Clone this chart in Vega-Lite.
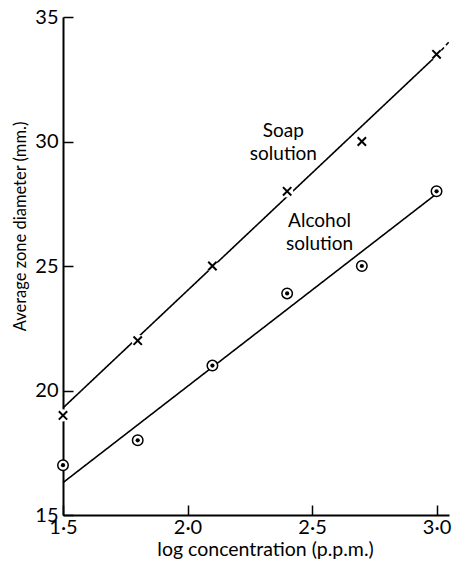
{
  "$schema": "https://vega.github.io/schema/vega-lite/v6.json",
  "autosize": {"type": "none"},
  "padding": {"left": 63, "top": 17, "right": 3, "bottom": 48},
  "width": 386,
  "height": 498,
  "background": "white",
  "config": {
    "view": {"stroke": null},
    "font": "Lato",
    "axis": {
      "grid": false,
      "domainColor": "black",
      "domainWidth": 2,
      "tickColor": "black",
      "tickWidth": 1.5,
      "tickSize": -10,
      "labelColor": "black",
      "titleColor": "black",
      "labelFont": "Lato",
      "titleFont": "Lato",
      "titleFontWeight": "normal"
    }
  },
  "datasets": {
    "points": [
      {"series": "Soap solution", "x": 1.5, "y": 19.0},
      {"series": "Soap solution", "x": 1.8, "y": 22.0},
      {"series": "Soap solution", "x": 2.1, "y": 25.0},
      {"series": "Soap solution", "x": 2.4, "y": 28.0},
      {"series": "Soap solution", "x": 2.7, "y": 30.0},
      {"series": "Soap solution", "x": 3.0, "y": 33.5},
      {"series": "Alcohol solution", "x": 1.5, "y": 17.0},
      {"series": "Alcohol solution", "x": 1.8, "y": 18.0},
      {"series": "Alcohol solution", "x": 2.1, "y": 21.0},
      {"series": "Alcohol solution", "x": 2.4, "y": 23.9},
      {"series": "Alcohol solution", "x": 2.7, "y": 25.0},
      {"series": "Alcohol solution", "x": 3.0, "y": 28.0}
    ],
    "fits": [
      {"series": "Soap solution", "part": "fit", "x": 1.5, "y": 19.3},
      {"series": "Soap solution", "part": "fit", "x": 3.0, "y": 33.45},
      {"series": "Soap solution", "part": "extrapolated", "x": 3.0, "y": 33.45},
      {"series": "Soap solution", "part": "extrapolated", "x": 3.05, "y": 34.0},
      {"series": "Alcohol solution", "part": "fit", "x": 1.5, "y": 16.3},
      {"series": "Alcohol solution", "part": "fit", "x": 3.0, "y": 27.9}
    ],
    "labels": [
      {"label": "Soap\nsolution", "x": 2.385, "y": 30.44},
      {"label": "Alcohol\nsolution", "x": 2.53, "y": 26.8}
    ]
  },
  "layer": [
    {
      "data": {"name": "fits"},
      "mark": {"type": "line", "color": "black", "strokeWidth": 1.6},
      "encoding": {
        "x": {
          "field": "x", "type": "quantitative",
          "scale": {"domain": [1.5, 3.05], "nice": false, "zero": false},
          "axis": {
            "values": [1.5, 2.0, 2.5, 3.0],
            "labelExpr": "replace(format(datum.value, '.1f'), '.', '·')",
            "labelFontSize": 20,
            "labelPadding": 12,
            "labelFlush": false,
            "title": "log concentration (p.p.m.)",
            "titleFontSize": 19.5,
            "titleBaseline": "middle",
            "titleAnchor": "middle",
            "titleX": 202,
            "titleY": 34
          }
        },
        "y": {
          "field": "y", "type": "quantitative",
          "scale": {"domain": [15, 35], "nice": false, "zero": false},
          "axis": {
            "values": [15, 20, 25, 30, 35],
            "labelFontSize": 20,
            "labelPadding": 15,
            "labelFlush": false,
            "title": "Average zone diameter (mm.)",
            "titleFontSize": 16.5,
            "titleBaseline": "middle",
            "titleAnchor": "middle",
            "titleAngle": -90,
            "titleX": -43,
            "titleY": 209
          }
        },
        "detail": {"field": "series"},
        "strokeDash": {
          "field": "part", "type": "nominal",
          "scale": {"domain": ["fit", "extrapolated"], "range": [[1, 0], [4, 3]]},
          "legend": null
        }
      }
    },
    {
      "data": {"name": "points"},
      "transform": [{"filter": "datum.series === 'Soap solution'"}],
      "mark": {"type": "point", "shape": "circle", "filled": true, "color": "white", "opacity": 1, "size": 150},
      "encoding": {
        "x": {"field": "x", "type": "quantitative"},
        "y": {"field": "y", "type": "quantitative"}
      }
    },
    {
      "data": {"name": "points"},
      "transform": [{"filter": "datum.series === 'Soap solution'"}],
      "mark": {"type": "point", "shape": "M-1,-1L1,1M1,-1L-1,1", "filled": false, "stroke": "black", "strokeWidth": 2, "opacity": 1, "size": 70},
      "encoding": {
        "x": {"field": "x", "type": "quantitative"},
        "y": {"field": "y", "type": "quantitative"}
      }
    },
    {
      "data": {"name": "points"},
      "transform": [{"filter": "datum.series === 'Alcohol solution'"}],
      "mark": {"type": "point", "shape": "circle", "filled": false, "fill": "white", "fillOpacity": 1, "stroke": "black", "strokeWidth": 1.5, "opacity": 1, "size": 110},
      "encoding": {
        "x": {"field": "x", "type": "quantitative"},
        "y": {"field": "y", "type": "quantitative"}
      }
    },
    {
      "data": {"name": "points"},
      "transform": [{"filter": "datum.series === 'Alcohol solution'"}],
      "mark": {"type": "point", "shape": "circle", "filled": true, "color": "black", "opacity": 1, "size": 18},
      "encoding": {
        "x": {"field": "x", "type": "quantitative"},
        "y": {"field": "y", "type": "quantitative"}
      }
    },
    {
      "data": {"name": "labels"},
      "mark": {"type": "text", "font": "Lato", "fontSize": 19, "lineBreak": "\n", "lineHeight": 23, "align": "center", "baseline": "middle", "color": "black"},
      "encoding": {
        "x": {"field": "x", "type": "quantitative"},
        "y": {"field": "y", "type": "quantitative"},
        "text": {"field": "label"}
      }
    }
  ]
}
